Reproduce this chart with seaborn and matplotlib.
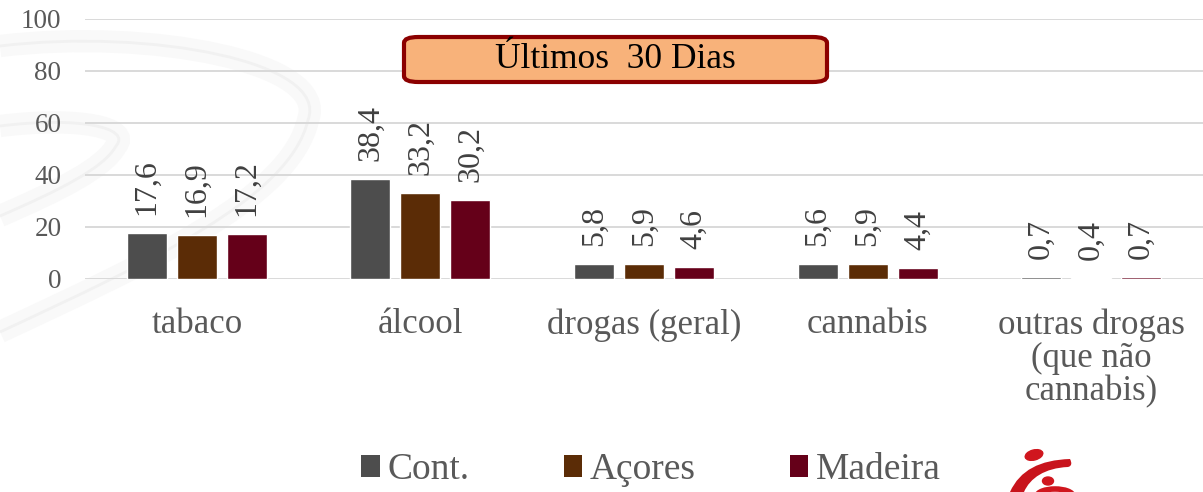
import matplotlib
matplotlib.use("Agg")
import matplotlib.pyplot as plt
from matplotlib.patches import FancyBboxPatch, Ellipse, Patch, PathPatch
from matplotlib.path import Path
import seaborn as sns
import pandas as pd

# Data
categorias = ["tabaco", "álcool", "drogas (geral)", "cannabis",
              "outras drogas\n(que não\ncannabis)"]
regioes = ["Cont.", "Açores", "Madeira"]
cont = [17.6, 38.4, 5.8, 5.6, 0.7]
acores = [16.9, 33.2, 5.9, 5.9, 0.4]
madeira = [17.2, 30.2, 4.6, 4.4, 0.7]
yticks = [0, 20, 40, 60, 80, 100]
titulo = "Últimos  30 Dias"

cores = {"Cont.": "#4d4d4d", "Açores": "#5b2c06", "Madeira": "#650019"}

df = pd.DataFrame({
    "categoria": categorias * 3,
    "regiao": [r for r in regioes for _ in categorias],
    "valor": cont + acores + madeira,
})

sns.set_theme(style="white")
plt.rcParams["font.family"] = ["Liberation Serif", "DejaVu Serif"]

W, H = 1203, 492
fig = plt.figure(figsize=(W / 100, H / 100), dpi=100)

# faint watermark ribbon in the background
bg = fig.add_axes([0, 0, 1, 1], zorder=-5)
bg.set_xlim(0, W)
bg.set_ylim(H, 0)
bg.axis("off")
C4 = Path.CURVE4
outer = Path([(0, 46), (150, 28), (330, 62), (308, 120),
              (290, 198), (150, 262), (0, 332)],
             [Path.MOVETO, C4, C4, C4, C4, C4, C4])
inner = Path([(0, 126), (80, 116), (132, 128), (116, 146),
              (104, 168), (60, 190), (0, 216)],
             [Path.MOVETO, C4, C4, C4, C4, C4, C4])
for p in (outer, inner):
    bg.add_patch(PathPatch(p, facecolor="none", edgecolor="#f9f9f9", linewidth=16,
                           capstyle="butt"))
    bg.add_patch(PathPatch(p, facecolor="none", edgecolor="#f1f1f1", linewidth=2,
                           capstyle="butt"))

ax = fig.add_axes([85 / W, 1 - 279 / H, 1118 / W, 260 / H])
ax.patch.set_alpha(0)

sns.barplot(data=df, x="categoria", y="valor", hue="regiao", order=categorias,
            hue_order=regioes, palette=cores, width=0.67, gap=0.2,
            saturation=1, legend=False, ax=ax, zorder=3)

for cont_bars in ax.containers:
    vals = cont_bars.datavalues
    ax.bar_label(cont_bars, labels=[f"{v:.1f}".replace(".", ",") for v in vals],
                 rotation=90, padding=13, fontsize=23, color="#404040")

ax.set_ylim(0, 100)
ax.set_xlim(-0.5, 4.5)
ax.set_yticks(yticks)
ax.set_yticklabels([str(t) for t in yticks])
ax.set_xlabel("")
ax.set_ylabel("")
ax.grid(axis="y", color="#d9d9d9", linewidth=1.4, zorder=0)
ax.grid(axis="x", visible=False)
for s in ax.spines.values():
    s.set_visible(False)
ax.tick_params(axis="y", length=0, pad=17, labelsize=19.5, labelcolor="#595959")
ax.tick_params(axis="x", length=0, pad=21, labelsize=25, labelcolor="#595959")
for lbl in ax.get_xticklabels():
    lbl.set_linespacing(1.0)
    lbl.set_verticalalignment("top")

# title box
fig.patches.append(FancyBboxPatch((404 / W, 1 - 82 / H), 423 / W, 45 / H,
                                  boxstyle="round,pad=0,rounding_size=0.012",
                                  transform=fig.transFigure, facecolor="#f8b27a",
                                  edgecolor="#8b0000", linewidth=3, zorder=10))
fig.text(615 / W, 1 - 60 / H, titulo, ha="center", va="center", fontsize=25.5,
         color="black", zorder=11)

# legend
handles = [Patch(facecolor=cores[r], edgecolor="none", label=r) for r in regioes]
fig.legend(handles=handles, loc="center", bbox_to_anchor=(651 / W, 1 - 470 / H),
           ncol=3, frameon=False, fontsize=27, labelcolor="#595959",
           handlelength=0.5, handleheight=0.5, handletextpad=0.2,
           columnspacing=2.5, borderpad=0)

# logo mark
lg = fig.add_axes([0, 0, 1, 1], zorder=20)
lg.set_xlim(0, W)
lg.set_ylim(H, 0)
lg.axis("off")
red = "#d0161e"
lg.add_patch(Ellipse((1034, 455), 18, 10, angle=-15, color=red))
swoosh = Path([(1010, 492), (1020, 470), (1040, 460), (1070, 459),
               (1072, 463), (1072, 466), (1068, 467),
               (1045, 468), (1030, 478), (1024, 492), (1010, 492)],
              [Path.MOVETO, C4, C4, C4, C4, C4, C4, C4, C4, C4, Path.CLOSEPOLY])
lg.add_patch(PathPatch(swoosh, facecolor="#c8141c", edgecolor="none"))
lg.add_patch(Ellipse((1048, 481), 11, 8, color=red))
lg.add_patch(Ellipse((1055, 496), 36, 14, facecolor="none", edgecolor=red,
                     linewidth=4))

fig.savefig("out.png", dpi=100)
